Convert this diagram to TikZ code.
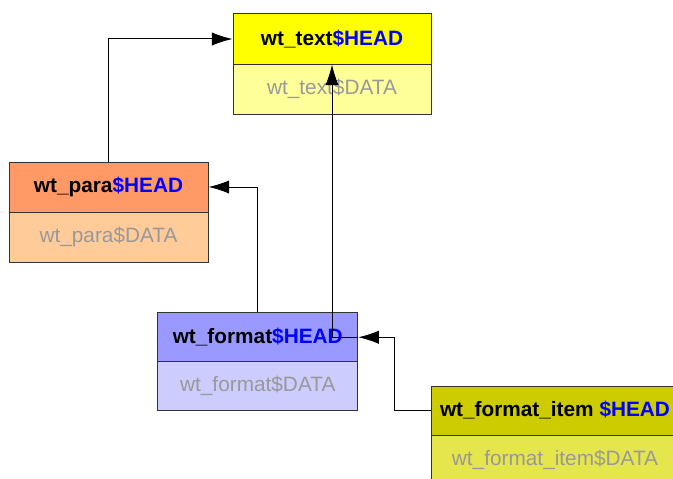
\documentclass[tikz,border=0pt]{standalone}
\usepackage{fontspec}
\setmainfont{Liberation Sans}
\usetikzlibrary{arrows.meta}
\definecolor{hdblue}{HTML}{0000FF}
\definecolor{dtgray}{HTML}{999999}
\definecolor{bord}{HTML}{333333}
\definecolor{texthf}{HTML}{FFFF00}
\definecolor{textdf}{HTML}{FFFF99}
\definecolor{parahf}{HTML}{FF9966}
\definecolor{paradf}{HTML}{FFCC99}
\definecolor{formhf}{HTML}{9999FF}
\definecolor{formdf}{HTML}{CCCCFF}
\definecolor{itemhf}{HTML}{CCCC00}
\definecolor{itemdf}{HTML}{E5E54C}
\tikzset{
  x=0.75pt, y=-0.75pt,
  cell/.style={draw=bord, line width=0.75pt, inner sep=0pt, font=\fontsize{15.6}{18}\selectfont},
  headcell/.style={cell, font=\fontsize{15.6}{18}\selectfont\bfseries},
  datacell/.style={cell, text=dtgray},
  arr/.style={draw=black, line width=0.75pt, -{Latex[length=15.5pt,width=10pt]}},
}
\begin{document}
\begin{tikzpicture}
\clip (0,0) rectangle (673,478);
\fill[white] (0,0) rectangle (673,478);
% wt_text
\node[headcell, fill=texthf, minimum width=148.5pt, minimum height=37.5pt] (texth) at (332,39) {wt\_text\textcolor{hdblue}{\$HEAD}};
\node[datacell, fill=textdf, minimum width=148.5pt, minimum height=37.5pt] (textd) at (332,89) {wt\_text\$DATA};
% wt_para
\node[headcell, fill=parahf, minimum width=149.25pt, minimum height=37.5pt] (parah) at (108.5,187) {wt\_para\textcolor{hdblue}{\$HEAD}};
\node[datacell, fill=paradf, minimum width=149.25pt, minimum height=37.5pt] (parad) at (108.5,237) {wt\_para\$DATA};
% wt_format
\node[headcell, fill=formhf, minimum width=150pt, minimum height=36.4pt] (formh) at (257.75,337.25) {wt\_format\textcolor{hdblue}{\$HEAD}};
\node[datacell, fill=formdf, minimum width=150pt, minimum height=36.75pt] (formd) at (257.75,386) {wt\_format\$DATA};
% wt_format_item
\node[headcell, fill=itemhf, minimum width=186pt, minimum height=36.75pt] (itemh) at (555,410.5) {wt\_format\_item \textcolor{hdblue}{\$HEAD}};
\node[datacell, fill=itemdf, minimum width=186pt, minimum height=36.75pt] (itemd) at (555,459.5) {wt\_format\_item\$DATA};
% connectors
\draw[arr] (parah.north) |- (texth.west);
\draw[arr] (formh.north) |- (parah.east);
\coordinate (bend) at (texth.south |- formh.east);
\draw[arr] (formh.east) -- (bend) -- (texth.south);
\draw[arr] (itemh.west) -- ++(-36,0) |- (formh.east);
\end{tikzpicture}
\end{document}
